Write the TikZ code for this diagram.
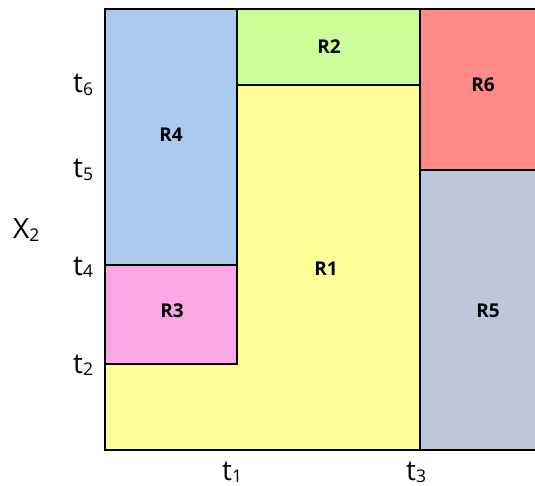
\documentclass[tikz,border=0pt]{standalone}
\usepackage{fontspec}
\setmainfont{Open Sans}
\definecolor{cR1}{HTML}{FFFF99}
\definecolor{cR2}{HTML}{CCFF99}
\definecolor{cR3}{HTML}{F8A8E2}
\definecolor{cR4}{HTML}{AACBEE}
\definecolor{cR5}{HTML}{BCC8DA}
\definecolor{cR6}{HTML}{FF8A88}
\tikzset{
  region/.style={draw=black, line width=2pt, line join=miter},
  rlabel/.style={inner sep=0pt, anchor=base, font=\fontsize{19}{22}\selectfont\bfseries},
  axlabel/.style={inner sep=0pt, font=\fontsize{28}{32}\selectfont},
}
\newcommand{\sbs}[1]{\raisebox{-2.5pt}{\fontsize{17.5}{20}\selectfont #1}}
\begin{document}
\begin{tikzpicture}[x=1pt,y=-1pt]
\useasboundingbox (0,0) rectangle (535,486);
\begin{scope}
\clip (0,0) rectangle (535,486);
% regions
\path[region, fill=cR1] (105,364) -- (237,364) -- (237,85) -- (420,85) -- (420,450) -- (105,450) -- cycle;
\path[region, fill=cR2] (237,9) rectangle (420,85);
\path[region, fill=cR3] (105,265) rectangle (237,364);
\path[region, fill=cR4] (105,9) rectangle (237,265);
\path[region, fill=cR6] (420,9) rectangle (545,170);
\path[region, fill=cR5] (420,170) rectangle (545,450);
\end{scope}
% region labels
\node[rlabel] (l1) at (326,275) {R1};
\node[rlabel] (l2) at (329,54) {R2};
\node[rlabel] (l3) at (172,317) {R3};
\node[rlabel] (l4) at (171,142) {R4};
\node[rlabel] (l5) at (488,317) {R5};
\node[rlabel] (l6) at (483,92) {R6};
% axis labels
\node[axlabel, anchor=base west] (t6) at (73,93) {t\sbs{6}};
\node[axlabel, anchor=base west] (t5) at (73,178) {t\sbs{5}};
\node[axlabel, anchor=base west] (t4) at (73,275) {t\sbs{4}};
\node[axlabel, anchor=base west] (t2) at (73,373) {t\sbs{2}};
\node[axlabel, anchor=base west] (x2) at (13,239) {X\sbs{2}};
\node[axlabel, anchor=base west] (t1) at (222,480) {t\sbs{1}};
\node[axlabel, anchor=base west] (t3) at (406,480) {t\sbs{3}};
\end{tikzpicture}
\end{document}
